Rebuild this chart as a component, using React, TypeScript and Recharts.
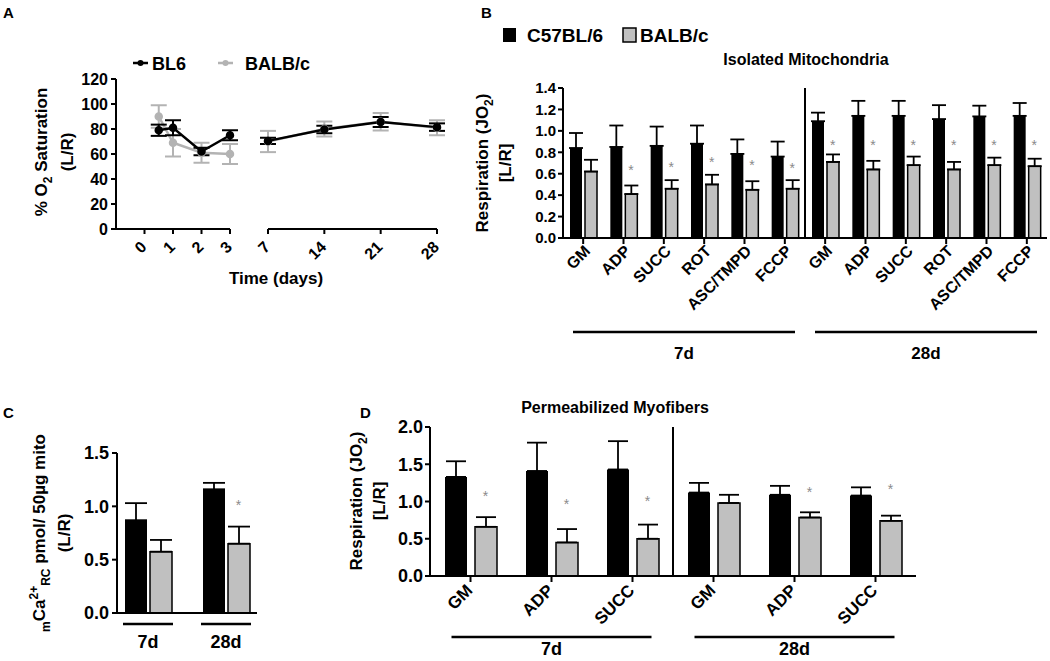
import React from "react";
import {
  LineChart,
  Line,
  ComposedChart,
  Bar,
  Scatter,
  XAxis,
  YAxis,
  ErrorBar,
  ReferenceLine,
} from "recharts";

const FONT = "'Liberation Sans', Arial, Helvetica, sans-serif";
const GREY = "#c0c0c0";

// ---- Panel A: % O2 saturation (broken time axis) ----
const earlyDays = [0.5, 1, 2, 3];
const bl6Early = [79, 81, 62, 75];
const bl6EarlyErr = [4.5, 6, 3, 4];
const balbEarly = [90, 69, 61, 60];
const balbEarlyErr = [9, 11, 8, 8];

const lateDays = [7, 14, 21, 28];
const bl6Late = [70.5, 79.6, 85.6, 81.5];
const bl6LateErr = [2.5, 3, 4, 3];
const balbLate = [70, 80, 85.8, 81];
const balbLateErr = [8.5, 6, 7, 6];

// ---- Panel B: isolated mitochondria ----
const mitoSteps = ["GM", "ADP", "SUCC", "ROT", "ASC/TMPD", "FCCP"];
const mitoGroups = ["7d", "28d"];
const mitoB6 = [0.84, 0.85, 0.86, 0.88, 0.785, 0.76, 1.09, 1.14, 1.14, 1.11, 1.135, 1.14];
const mitoB6Err = [0.14, 0.2, 0.18, 0.17, 0.135, 0.14, 0.08, 0.14, 0.14, 0.13, 0.1, 0.12];
const mitoBalb = [0.62, 0.41, 0.46, 0.5, 0.45, 0.46, 0.71, 0.64, 0.68, 0.64, 0.68, 0.67];
const mitoBalbErr = [0.11, 0.08, 0.08, 0.09, 0.08, 0.08, 0.07, 0.08, 0.08, 0.07, 0.07, 0.07];
const mitoStar = [null, 0.66, 0.69, 0.74, 0.71, 0.68, 0.9, 0.9, 0.9, 0.9, 0.9, 0.9];

// ---- Panel C: calcium retention capacity ----
const caDays = ["7d", "28d"];
const caB6 = [0.87, 1.16];
const caB6Err = [0.16, 0.06];
const caBalb = [0.575, 0.65];
const caBalbErr = [0.11, 0.16];
const caStar = [null, 1.04];

// ---- Panel D: permeabilized myofibers ----
const fiberSteps = ["GM", "ADP", "SUCC"];
const fiberB6 = [1.33, 1.41, 1.43, 1.12, 1.09, 1.08];
const fiberB6Err = [0.21, 0.38, 0.38, 0.13, 0.12, 0.11];
const fiberBalb = [0.66, 0.45, 0.5, 0.98, 0.785, 0.74];
const fiberBalbErr = [0.13, 0.18, 0.19, 0.11, 0.07, 0.07];
const fiberStar = [1.12, 1.01, 1.05, null, 1.17, 1.21];

const earlyRows = earlyDays.map((d, i) => ({
  day: d,
  bl6: bl6Early[i],
  bl6Err: bl6EarlyErr[i],
  balb: balbEarly[i],
  balbErr: balbEarlyErr[i],
}));
const lateRows = lateDays.map((d, i) => ({
  day: d,
  bl6: bl6Late[i],
  bl6Err: bl6LateErr[i],
  balb: balbLate[i],
  balbErr: balbLateErr[i],
}));

function groupedRows(steps: string[], b6: number[], b6Err: number[], balb: number[], balbErr: number[], star: (number | null)[]) {
  const rows: any[] = [];
  mitoGroups.forEach((g, gi) => {
    steps.forEach((s, si) => {
      const i = gi * steps.length + si;
      rows.push({
        id: `${s}-${g}`,
        name: s,
        group: g,
        b6: b6[i],
        b6Err: [0, b6Err[i]],
        balb: balb[i],
        balbErr: [0, balbErr[i]],
        star: star[i],
      });
    });
  });
  return rows;
}

const mitoRows = groupedRows(mitoSteps, mitoB6, mitoB6Err, mitoBalb, mitoBalbErr, mitoStar);
const fiberRows = groupedRows(fiberSteps, fiberB6, fiberB6Err, fiberBalb, fiberBalbErr, fiberStar);
const caRows = caDays.map((d, i) => ({
  day: d,
  b6: caB6[i],
  b6Err: [0, caB6Err[i]],
  balb: caBalb[i],
  balbErr: [0, caBalbErr[i]],
  star: caStar[i],
}));

const nameOf = (rows: any[]) => Object.fromEntries(rows.map((r) => [r.id, r.name]));

const axisStyle = { stroke: "#000", strokeWidth: 2 };
const tickFont = (fs: number) => ({ fill: "#000", fontSize: fs, fontWeight: "bold", fontFamily: FONT });

function RotTick(props: any) {
  const { x, y, payload, ox = 0, oy = 0, fs = 16, names } = props;
  const label = names ? names[payload.value] : payload.value;
  return (
    <text
      transform={`translate(${x + ox},${y + oy}) rotate(-45)`}
      textAnchor="end"
      fontSize={fs}
      fontWeight="bold"
      fontFamily={FONT}
      fill="#000"
    >
      {label}
    </text>
  );
}

// underline + group name under a set of categories
function GroupTick(props: any) {
  const { x, y, payload, half = 100, lineDy = 6, textDy = 30, fs = 17 } = props;
  return (
    <g>
      <line x1={x - half} x2={x + half} y1={y + lineDy} y2={y + lineDy} stroke="#000" strokeWidth={2.5} />
      <text x={x} y={y + textDy} textAnchor="middle" fontSize={fs} fontWeight="bold" fontFamily={FONT} fill="#000">
        {payload.value}
      </text>
    </g>
  );
}

function Star(props: any) {
  const { cx, cy, payload, dx = 0 } = props;
  if (!payload || payload.star == null || cx == null || cy == null) return null;
  return (
    <text x={cx + dx} y={cy + 8} textAnchor="middle" fontSize={14} fill="#8a8a8a" fontFamily={FONT}>
      *
    </text>
  );
}

function SatChart({ rows, width, margin, domain, ticks, showY }: any) {
  return (
    <LineChart width={width} height={300} data={rows} margin={margin}>
      <XAxis
        type="number"
        dataKey="day"
        domain={domain}
        ticks={ticks}
        interval={0}
        height={30}
        tickSize={5}
        tickMargin={2}
        axisLine={axisStyle}
        tickLine={axisStyle}
        tick={<RotTick ox={3} oy={12} fs={16} />}
      />
      <YAxis
        hide={!showY}
        domain={[0, 120]}
        ticks={[0, 20, 40, 60, 80, 100, 120]}
        interval={0}
        width={116}
        tickSize={5}
        tickMargin={3}
        axisLine={axisStyle}
        tickLine={axisStyle}
        tick={tickFont(16)}
      />
      <Line
        dataKey="balb"
        stroke="#b3b3b3"
        strokeWidth={2.5}
        dot={{ r: 3, fill: "#b3b3b3", stroke: "#b3b3b3" }}
        activeDot={false}
        isAnimationActive={false}
      >
        <ErrorBar dataKey="balbErr" direction="y" width={8} stroke="#b3b3b3" strokeWidth={2} />
      </Line>
      <Line
        dataKey="bl6"
        stroke="#000"
        strokeWidth={2.5}
        dot={{ r: 3, fill: "#000", stroke: "#000" }}
        activeDot={false}
        isAnimationActive={false}
      >
        <ErrorBar dataKey="bl6Err" direction="y" width={8} stroke="#000" strokeWidth={2} />
      </Line>
    </LineChart>
  );
}

function TwoStrainBars({ size, capW, starDx }: any) {
  return [
    <Bar key="b6" xAxisId="cat" dataKey="b6" fill="#000" barSize={size} isAnimationActive={false}>
      <ErrorBar dataKey="b6Err" direction="y" width={capW} stroke="#000" strokeWidth={1.8} />
    </Bar>,
    <Bar
      key="balb"
      xAxisId="cat"
      dataKey="balb"
      fill={GREY}
      stroke="#000"
      strokeWidth={1.5}
      barSize={size}
      isAnimationActive={false}
    >
      <ErrorBar dataKey="balbErr" direction="y" width={capW} stroke="#000" strokeWidth={1.8} />
    </Bar>,
    <Scatter key="star" xAxisId="cat" dataKey="star" shape={<Star dx={starDx} />} isAnimationActive={false} />,
  ];
}

export default function App() {
  const mitoNames = nameOf(mitoRows);
  const fiberNames = nameOf(fiberRows);
  const bold = { fontWeight: "bold", fontFamily: FONT, fill: "#000" } as const;

  return (
    <div
      style={{
        position: "absolute",
        left: 0,
        top: 0,
        width: 1050,
        height: 661,
        overflow: "hidden",
        background: "#fff",
        fontFamily: FONT,
      }}
    >
      {/* A: early days */}
      <div style={{ position: "absolute", left: 0, top: 0 }}>
        <SatChart
          rows={earlyRows}
          width={250}
          margin={{ top: 79, right: 20, bottom: 41, left: 0 }}
          domain={[-1, 3]}
          ticks={[0, 1, 2, 3]}
          showY
        />
      </div>
      {/* A: later days */}
      <div style={{ position: "absolute", left: 250, top: 0 }}>
        <SatChart
          rows={lateRows}
          width={210}
          margin={{ top: 79, right: 23, bottom: 41, left: 18 }}
          domain={[7, 28]}
          ticks={[7, 14, 21, 28]}
          showY={false}
        />
      </div>

      {/* B */}
      <div style={{ position: "absolute", left: 440, top: 0 }}>
        <ComposedChart
          width={610}
          height={376}
          data={mitoRows}
          margin={{ top: 88, right: 3, bottom: 0, left: 0 }}
          barGap={3}
        >
          <XAxis
            xAxisId="cat"
            dataKey="id"
            interval={0}
            height={88}
            tickSize={6}
            tickMargin={2}
            axisLine={axisStyle}
            tickLine={axisStyle}
            tick={<RotTick names={mitoNames} ox={8} oy={6} fs={16} />}
          />
          <XAxis
            xAxisId="grp"
            dataKey="group"
            allowDuplicatedCategory={false}
            height={50}
            axisLine={false}
            tickLine={false}
            tickSize={0}
            tickMargin={0}
            tick={<GroupTick half={111} lineDy={6} textDy={33} fs={17} />}
          />
          <YAxis
            domain={[0, 1.4]}
            ticks={[0, 0.2, 0.4, 0.6, 0.8, 1.0, 1.2, 1.4]}
            interval={0}
            width={123}
            tickSize={5}
            tickMargin={2}
            tickFormatter={(v: number) => v.toFixed(1)}
            axisLine={axisStyle}
            tickLine={axisStyle}
            tick={tickFont(15)}
          />
          <ReferenceLine xAxisId="cat" x="GM-28d" position="start" stroke="#000" strokeWidth={2} />
          {TwoStrainBars({ size: 12, capW: 7, starDx: 7.5 })}
        </ComposedChart>
      </div>

      {/* C */}
      <div style={{ position: "absolute", left: 0, top: 380 }}>
        <ComposedChart
          width={280}
          height={273}
          data={caRows}
          margin={{ top: 73, right: 23, bottom: 0, left: 0 }}
          barGap={3}
        >
          <XAxis
            xAxisId="cat"
            dataKey="day"
            padding={{ left: -8, right: -8 }}
            height={40}
            tickSize={0}
            tickMargin={0}
            tickLine={false}
            axisLine={axisStyle}
            tick={<GroupTick half={25} lineDy={11} textDy={35} fs={18} />}
          />
          <YAxis
            domain={[0, 1.5]}
            ticks={[0, 0.5, 1.0, 1.5]}
            interval={0}
            width={117}
            tickSize={5}
            tickMargin={3}
            tickFormatter={(v: number) => v.toFixed(1)}
            axisLine={axisStyle}
            tickLine={axisStyle}
            tick={tickFont(18)}
          />
          {TwoStrainBars({ size: 22, capW: 11, starDx: 12.5 })}
        </ComposedChart>
      </div>

      {/* D */}
      <div style={{ position: "absolute", left: 340, top: 380 }}>
        <ComposedChart
          width={600}
          height={281}
          data={fiberRows}
          margin={{ top: 47, right: 24, bottom: 0, left: 0 }}
          barGap={8}
        >
          <XAxis
            xAxisId="cat"
            dataKey="id"
            interval={0}
            height={55}
            tickSize={6}
            tickMargin={2}
            axisLine={axisStyle}
            tickLine={axisStyle}
            tick={<RotTick names={fiberNames} ox={3} oy={7.5} fs={17} />}
          />
          <XAxis
            xAxisId="grp"
            dataKey="group"
            allowDuplicatedCategory={false}
            height={30}
            axisLine={false}
            tickLine={false}
            tickSize={0}
            tickMargin={0}
            tick={<GroupTick half={100} lineDy={6} textDy={24} fs={18} />}
          />
          <YAxis
            domain={[0, 2]}
            ticks={[0, 0.5, 1.0, 1.5, 2.0]}
            interval={0}
            width={90}
            tickSize={5}
            tickMargin={2}
            tickFormatter={(v: number) => v.toFixed(1)}
            axisLine={axisStyle}
            tickLine={axisStyle}
            tick={tickFont(18)}
          />
          <ReferenceLine xAxisId="cat" x="GM-28d" position="start" stroke="#000" strokeWidth={2} />
          {TwoStrainBars({ size: 22, capW: 10, starDx: 15 })}
        </ComposedChart>
      </div>

      {/* text overlay: panel letters, legends, titles */}
      <svg
        width={1050}
        height={661}
        style={{ position: "absolute", left: 0, top: 0, pointerEvents: "none" }}
      >
        <text x={3} y={18} fontSize={15} {...bold}>A</text>
        <text x={481} y={18} fontSize={15} {...bold}>B</text>
        <text x={3} y={418} fontSize={15} {...bold}>C</text>
        <text x={360} y={418} fontSize={15} {...bold}>D</text>

        {/* A legend */}
        <line x1={133} x2={148} y1={63} y2={63} stroke="#000" strokeWidth={2.5} />
        <circle cx={140.5} cy={63} r={3} fill="#000" />
        <text x={152} y={70} fontSize={18} {...bold}>BL6</text>
        <line x1={218} x2={233} y1={63} y2={63} stroke="#b3b3b3" strokeWidth={2.5} />
        <circle cx={225.5} cy={63} r={3} fill="#b3b3b3" />
        <text x={245} y={70} fontSize={18} {...bold}>BALB/c</text>

        {/* A axis titles */}
        <text transform="translate(47,152) rotate(-90)" textAnchor="middle" fontSize={17} {...bold}>
          % O<tspan fontSize={12} dy={5}>2</tspan>
          <tspan dy={-5}> Saturation</tspan>
        </text>
        <text transform="translate(73,152) rotate(-90)" textAnchor="middle" fontSize={17} {...bold}>
          (L/R)
        </text>
        <text x={276} y={284} textAnchor="middle" fontSize={17} {...bold}>Time (days)</text>

        {/* B legend + title */}
        <rect x={503} y={28} width={13} height={14} fill="#000" />
        <text x={527} y={42} fontSize={19} {...bold}>C57BL/6</text>
        <rect x={623} y={28} width={13} height={14} fill={GREY} stroke="#000" strokeWidth={1.5} />
        <text x={640} y={42} fontSize={19} {...bold}>BALB/c</text>
        <text x={806} y={65} textAnchor="middle" fontSize={16} {...bold}>Isolated Mitochondria</text>
        <text transform="translate(488,163) rotate(-90)" textAnchor="middle" fontSize={17} {...bold}>
          Respiration (JO<tspan fontSize={12} dy={5}>2</tspan>
          <tspan dy={-5}>)</tspan>
        </text>
        <text transform="translate(511,163) rotate(-90)" textAnchor="middle" fontSize={17} {...bold}>
          [L/R]
        </text>

        {/* C axis title */}
        <text transform="translate(45,533) rotate(-90)" textAnchor="middle" fontSize={17} {...bold}>
          <tspan fontSize={12} dy={5}>m</tspan>
          <tspan dy={-5}>Ca</tspan>
          <tspan fontSize={12} dy={-7}>2+</tspan>
          <tspan fontSize={12} dy={12}>RC</tspan>
          <tspan dy={-5}> pmol/ 50µg mito</tspan>
        </text>
        <text transform="translate(70,533) rotate(-90)" textAnchor="middle" fontSize={17} {...bold}>
          (L/R)
        </text>

        {/* D title + axis title */}
        <text x={615} y={413} textAnchor="middle" fontSize={16} {...bold}>Permeabilized Myofibers</text>
        <text transform="translate(362,501) rotate(-90)" textAnchor="middle" fontSize={17} {...bold}>
          Respiration (JO<tspan fontSize={12} dy={5}>2</tspan>
          <tspan dy={-5}>)</tspan>
        </text>
        <text transform="translate(385,501) rotate(-90)" textAnchor="middle" fontSize={17} {...bold}>
          [L/R]
        </text>
      </svg>
    </div>
  );
}
